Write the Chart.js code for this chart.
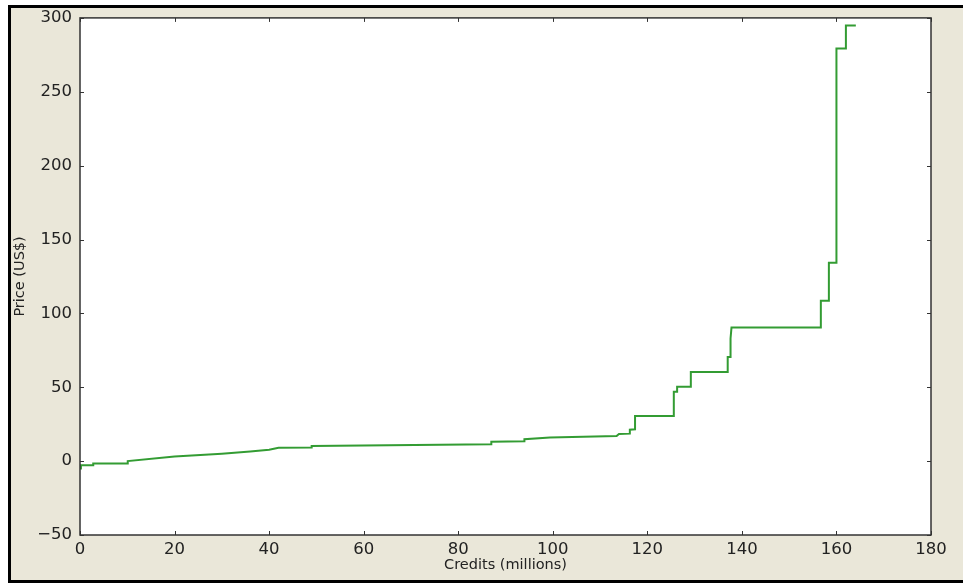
<!DOCTYPE html>
<html>
<head>
<meta charset="utf-8">
<script src="https://cdn.jsdelivr.net/npm/chart.js@4.4.1/dist/chart.umd.min.js"></script>
<style>
  html, body { margin: 0; padding: 0; background: #ffffff; }
  #frame {
    position: absolute; left: 8px; top: 5px; width: 960px; height: 578px;
    background: #eae7d9;
    border-top: 3px solid #000; border-left: 3px solid #000; border-bottom: 3px solid #000;
    box-sizing: border-box;
  }
  #wrap { position: absolute; left: 0; top: 0; width: 963px; height: 586px; }
</style>
</head>
<body>
<div id="frame"></div>
<div id="wrap"><canvas id="c" width="963" height="586"></canvas></div>
<script>
// Cumulative credit volume (millions) against price (US$), vertices of the supply curve
const credits = [0, 0.2, 2.8, 2.8, 10.1, 10.1, 20, 30, 36, 40, 42, 49, 49, 87, 87, 94, 94,
  99.4, 113.5, 114, 116.3, 116.3, 117.4, 117.4, 125.6, 125.6, 126.3, 126.3, 129.2, 129.2,
  137, 137, 137.5, 137.6, 137.8, 156.7, 156.7, 158.4, 158.4, 160, 160, 162, 162, 164.1];
const prices = [-5, -2.8, -2.8, -1.6, -1.6, 0, 3.2, 5, 6.5, 7.7, 9, 9.3, 10.3, 11.4, 13.2, 13.4, 14.8,
  16, 17, 18.4, 18.6, 21.3, 21.5, 30.5, 30.5, 47, 47, 50.3, 50.3, 60.4,
  60.4, 70.5, 70.5, 83, 90.4, 90.4, 108.5, 108.5, 134.3, 134.3, 279.3, 279.3, 294.8, 294.8];

const xTicks = [0, 20, 40, 60, 80, 100, 120, 140, 160, 180];
const yTicks = [-50, 0, 50, 100, 150, 200, 250, 300];

const points = credits.map((c, i) => ({ x: c, y: prices[i] }));

// Inward tick marks on all four sides plus a dark frame around the plot area
const frameTicks = {
  id: 'frameTicks',
  afterDraw(chart) {
    const { ctx, chartArea: a, scales } = chart;
    const len = 4;
    ctx.save();
    ctx.strokeStyle = '#333333';
    ctx.lineWidth = 1;
    ctx.beginPath();
    xTicks.forEach(v => {
      const px = Math.round(scales.x.getPixelForValue(v)) + 0.5;
      ctx.moveTo(px, a.bottom); ctx.lineTo(px, a.bottom - len);
      ctx.moveTo(px, a.top); ctx.lineTo(px, a.top + len);
    });
    yTicks.forEach(v => {
      const py = Math.round(scales.y.getPixelForValue(v)) + 0.5;
      ctx.moveTo(a.left, py); ctx.lineTo(a.left + len, py);
      ctx.moveTo(a.right, py); ctx.lineTo(a.right - len, py);
    });
    ctx.stroke();
    ctx.lineWidth = 1.5;
    ctx.strokeRect(a.left, a.top, a.right - a.left, a.bottom - a.top);
    ctx.restore();
  }
};

const plotBg = {
  id: 'plotBg',
  beforeDraw(chart) {
    const { ctx, chartArea: a } = chart;
    ctx.save();
    ctx.fillStyle = '#ffffff';
    ctx.fillRect(a.left, a.top, a.right - a.left, a.bottom - a.top);
    ctx.restore();
  }
};

new Chart(document.getElementById('c'), {
  type: 'scatter',
  data: {
    datasets: [{
      data: points,
      showLine: true,
      borderColor: '#339c33',
      borderWidth: 2,
      pointRadius: 0,
      tension: 0,
      fill: false
    }]
  },
  options: {
    responsive: false,
    animation: false,
    layout: { padding: { left: 0, top: 16, right: 32, bottom: 0 } },
    plugins: { legend: { display: false }, tooltip: { enabled: false } },
    scales: {
      x: {
        type: 'linear', min: 0, max: 180,
        afterBuildTicks(s) { s.ticks = xTicks.map(v => ({ value: v })); },
        afterFit(s) { s.height = 51; },
        grid: { display: false, drawTicks: false },
        border: { display: false },
        ticks: { color: '#222', padding: 5, font: { family: 'DejaVu Sans', size: 16.5 }, maxRotation: 0 },
        title: { display: true, text: 'Credits (millions)', color: '#222',
          font: { family: 'DejaVu Sans', size: 14.5 }, padding: { top: 0, bottom: 12 } }
      },
      y: {
        type: 'linear', min: -50, max: 300,
        afterBuildTicks(s) { s.ticks = yTicks.map(v => ({ value: v })); },
        afterFit(s) { s.width = 80; },
        grid: { display: false, drawTicks: false },
        border: { display: false },
        ticks: { color: '#222', padding: 8, font: { family: 'DejaVu Sans', size: 16.5 },
          callback: v => (v < 0 ? '\u2212' + Math.abs(v) : String(v)) },
        title: { display: true, text: 'Price (US$)', color: '#222',
          font: { family: 'DejaVu Sans', size: 14.5 }, padding: { top: 12, bottom: 0 } }
      }
    }
  },
  plugins: [plotBg, frameTicks]
});
</script>
</body>
</html>
